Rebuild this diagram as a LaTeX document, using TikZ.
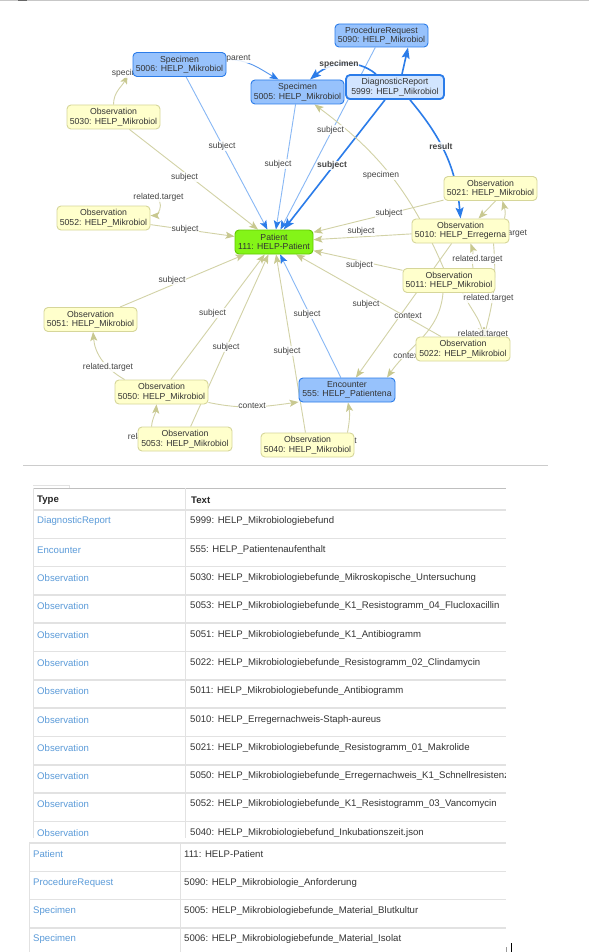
\documentclass[tikz,border=0pt]{standalone}
\usepackage{fontspec}
\setmainfont{Liberation Sans}
\usetikzlibrary{arrows.meta,calc}
\pgfdeclarelayer{bglayer}
\pgfdeclarelayer{edgelayer}
\pgfsetlayers{bglayer,edgelayer,main}
\definecolor{obsfill}{HTML}{FFFFCC}
\definecolor{obsline}{HTML}{D6D69A}
\definecolor{khaki}{HTML}{D2D2A6}
\definecolor{khakitip}{HTML}{C8C890}
\definecolor{bluefill}{HTML}{97C2FC}
\definecolor{blueline}{HTML}{2B7CE9}
\definecolor{lightedge}{HTML}{88B8F5}
\definecolor{hifill}{HTML}{D2E5FF}
\definecolor{patfill}{HTML}{84F418}
\definecolor{patline}{HTML}{62C800}
\definecolor{txt}{HTML}{343434}
\definecolor{lblc}{HTML}{444444}
\definecolor{linkc}{HTML}{5B9BD9}
\definecolor{rulec}{HTML}{E2E2E2}
\tikzset{
 gnode/.style={rounded corners=4pt, align=center, inner sep=0pt, minimum height=24pt, text=txt, font=\fontsize{8.7}{9.5}\selectfont, line width=0.9pt},
 obs/.style={gnode, fill=obsfill, draw=obsline, minimum width=93pt},
 res/.style={gnode, fill=bluefill, draw=blueline, minimum width=93pt},
 sel/.style={gnode, fill=hifill, draw=blueline, line width=1.8pt, minimum width=98pt},
 patnode/.style={gnode, fill=patfill, draw=patline, minimum width=78pt},
 oedge/.style={draw=khaki, line width=0.9pt, -{Stealth[length=9pt,width=7pt,inset=2pt,color=khakitip]}},
 bedge/.style={draw=lightedge, line width=0.9pt, -{Stealth[length=9pt,width=7pt,inset=2pt,color=blueline]}},
 hedge/.style={draw=blueline, line width=1.6pt, -{Stealth[length=11pt,width=8pt,inset=2pt]}},
 elbl/.style={text=lblc, font=\fontsize{8.5}{9}\selectfont, fill=white, fill opacity=0.85, text opacity=1, inner sep=0.6pt},
 hlbl/.style={elbl, font=\bfseries\fontsize{8.5}{9}\selectfont},
 ttype/.style={anchor=west, text=linkc, font=\fontsize{9.6}{10}\selectfont, inner sep=0pt},
 ttext/.style={anchor=west, text=txt, font=\fontsize{9.6}{10}\selectfont, inner sep=0pt},
 thead/.style={anchor=west, text=black!85, font=\bfseries\fontsize{9.6}{10}\selectfont, inner sep=0pt},
 rowline/.style={draw=rulec, line width=1.6pt},
 colline/.style={draw=rulec, line width=0.8pt},
}
\begin{document}
\begin{tikzpicture}[x=1pt,y=1pt]
\useasboundingbox (0,0) rectangle (589,-952);
\begin{pgfonlayer}{bglayer}
\fill[white] (0,0) rectangle (589,-952);
\end{pgfonlayer}
% top strip
\fill[black!22] (0,0) rectangle (589,-1.3);
\fill[black!60] (18,0) rectangle (27,-1.3);

% ---------- graph nodes ----------
\node[res] (s5006) at (179.5,-64.5) {Specimen\\5006: HELP\_Mikrobiol};
\node[res] (s5005) at (297.5,-92) {Specimen\\5005: HELP\_Mikrobiol};
\node[res, minimum height=23pt] (p5090) at (381.5,-35.5) {ProcedureRequest\\5090: HELP\_Mikrobiol};
\node[sel] (d5999) at (395,-87) {DiagnosticReport\\5999: HELP\_Mikrobiol};
\node[obs] (o5030) at (113.5,-117) {Observation\\5030: HELP\_Mikrobiol};
\node[obs] (o5052) at (103.5,-218) {Observation\\5052: HELP\_Mikrobiol};
\node[patnode] (pat) at (274,-242) {Patient\\111: HELP-Patient};
\node[obs] (o5021) at (490.5,-188.5) {Observation\\5021: HELP\_Mikrobiol};
\node[obs, minimum width=97pt] (o5010) at (460.5,-231) {Observation\\5010: HELP\_Erregerna};
\node[obs, minimum width=92pt] (o5011) at (449,-280.5) {Observation\\5011: HELP\_Mikrobiol};
\node[obs] (o5051) at (90.5,-319.5) {Observation\\5051: HELP\_Mikrobiol};
\node[obs] (o5050) at (161.5,-392) {Observation\\5050: HELP\_Mikrobiol};
\node[obs, minimum width=94pt] (o5053) at (185,-439) {Observation\\5053: HELP\_Mikrobiol};
\node[obs] (o5040) at (307.5,-445) {Observation\\5040: HELP\_Mikrobiol};
\node[res, minimum width=96pt] (enc) at (347,-390) {Encounter\\555: HELP\_Patientena};
\node[obs, minimum width=94pt] (o5022) at (463,-349) {Observation\\5022: HELP\_Mikrobiol};

% ---------- edges ----------
\begin{pgfonlayer}{edgelayer}
\draw[bedge, draw=blueline!80] ($(s5006.east)+(0,5)$) to[out=0,in=150] ($(s5005.north)+(-19,0)$);
\draw[bedge] (s5006) -- (pat);
\draw[bedge] (s5005) -- (pat);
\draw[bedge] (p5090) -- (pat);
\draw[bedge] (enc) -- (pat);
\draw[hedge] (d5999) -- (pat);
\draw[hedge] ($(d5999.north)+(-19,0)$) to[out=140,in=40] ($(s5005.north)+(12.5,0)$);
\draw[hedge] ($(d5999.north)+(7,0)$) -- ($(p5090.south)+(26.5,0)$);
\draw[hedge] ($(d5999.south)+(15,0)$) to[out=-50,in=95] (o5010.north);

\draw[oedge] (o5030.north) to[out=90,in=-115] ($(s5006.south west)+(-5,2)$);
\draw[oedge] (o5030) -- (pat);
\draw[oedge] (o5052) -- (pat);
\draw[oedge] ($(o5052.north east)+(0,10)$) arc[start angle=90,end angle=-90,radius=10];
\draw[oedge] (o5051) -- (pat);
\draw[oedge] (o5050) -- (pat);
\draw[oedge] (o5053) -- (pat);
\draw[oedge] (o5040) -- (pat);
\draw[oedge] (o5021) -- (pat);
\draw[oedge] (o5010) -- (pat);
\draw[oedge] (o5011) -- (pat);
\draw[oedge] (o5022) -- (pat);
\draw[oedge] (o5011) to[bend right=15] (s5005);
\draw[oedge] ($(o5050.north west)+(10,0)$) to[out=150,in=-85] ($(o5051.south)+(2.5,0)$);
\draw[oedge] ($(o5053.north west)+(14,0)$) to[out=85,in=-95] ($(o5050.south)+(-5,0)$);
\draw[oedge] ($(o5050.south east)+(0,2)$) to[out=-12,in=188] ($(enc.west)+(0,-12)$);
\draw[oedge] ($(o5040.north)+(40,0)$) to[out=80,in=-80] ($(enc.south)+(1,0)$);
\draw[oedge] (o5010) -- (enc);
\draw[oedge] ($(o5011.south)+(-6,0)$) to[out=-95,in=55] ($(enc.north)+(40,0)$);
\draw[oedge] ($(o5021.south)+(5,0)$) -- ($(o5010.north)+(18,0)$);
\draw[oedge] ($(o5010.north)+(44,0)$) to[out=75,in=-75] ($(o5021.south)+(12,0)$);
\draw[oedge] ($(o5011.north)+(24,0)$) to[out=100,in=-70] ($(o5010.south)+(10,0)$);
\draw[oedge] ($(o5011.south)+(14,0)$) to[out=-65,in=100] ($(o5022.north)+(20,0)$);
\draw[oedge] ($(o5010.south)+(33,0)$) to[out=-85,in=75] ($(o5022.north)+(21,0)$);

% labels
\node[elbl] (l01) at (238.5,-59) {parent};
\node[elbl] (l02) at (130,-73) {specimen};
\node[elbl] (l03) at (222,-146) {subject};
\node[elbl] (l04) at (278,-164) {subject};
\node[elbl] (l05) at (330.5,-130) {subject};
\node[hlbl] (l06) at (332,-165.5) {subject};
\node[hlbl] (l07) at (339,-64) {specimen};
\node[hlbl] (l08) at (441,-146) {result};
\node[elbl] (l09) at (381,-175) {specimen};
\node[elbl] (l10) at (184.5,-177) {subject};
\node[elbl] (l11) at (158.5,-197) {related.target};
\node[elbl] (l12) at (185,-229) {subject};
\node[elbl] (l13) at (172,-280) {subject};
\node[elbl] (l14) at (108,-367) {related.target};
\node[elbl] (l15) at (212.5,-313) {subject};
\node[elbl] (l16) at (226,-347) {subject};
\node[elbl] (l17) at (153,-437.5) {related.target};
\node[elbl] (l18) at (252,-406) {context};
\node[elbl] (l19) at (287,-351) {subject};
\node[elbl] (l20) at (343,-440.5) {context};
\node[elbl] (l21) at (307,-314) {subject};
\node[elbl] (l22) at (408,-316) {context};
\node[elbl] (l23) at (407,-356) {context};
\node[elbl] (l24) at (389,-213) {subject};
\node[elbl] (l25) at (361,-231) {subject};
\node[elbl] (l26) at (359.5,-265) {subject};
\node[elbl] (l27) at (366,-304.5) {subject};
\node[elbl] (l28) at (502,-233) {related.target};
\node[elbl] (l29) at (477.5,-259) {related.target};
\node[elbl] (l30) at (488.5,-298) {related.target};
\node[elbl] (l31) at (483,-334) {related.target};
\end{pgfonlayer}

% separator
\draw[draw=black!20, line width=0.8pt] (23,-465) -- (548,-465);

% ---------- table 1 ----------
\draw[colline] (33,-485) -- (69,-485) -- (69,-488);
\draw[draw=black!25, line width=1.5pt] (33,-488.5) -- (506,-488.5);
\foreach \i in {0,...,11} \draw[rowline] (33,{-510-28.3*\i}) -- (506,{-510-28.3*\i});
\draw[colline] (33,-488) -- (33,-838);
\draw[colline] (185,-488) -- (185,-838);
\node[thead] (h1) at (37,-500) {Type};
\node[thead] (h2) at (191,-500) {Text};
\begin{scope}
\clip (30,-480) rectangle (505.5,-952);
\foreach \ty/\tx [count=\i from 0] in {
 DiagnosticReport/5999: HELP\_Mikrobiologiebefund,
 Encounter/555: HELP\_Patientenaufenthalt,
 Observation/5030: HELP\_Mikrobiologiebefunde\_Mikroskopische\_Untersuchung,
 Observation/5053: HELP\_Mikrobiologiebefunde\_K1\_Resistogramm\_04\_Flucloxacillin,
 Observation/5051: HELP\_Mikrobiologiebefunde\_K1\_Antibiogramm,
 Observation/5022: HELP\_Mikrobiologiebefunde\_Resistogramm\_02\_Clindamycin,
 Observation/5011: HELP\_Mikrobiologiebefunde\_Antibiogramm,
 Observation/5010: HELP\_Erregernachweis-Staph-aureus,
 Observation/5021: HELP\_Mikrobiologiebefunde\_Resistogramm\_01\_Makrolide,
 Observation/5050: HELP\_Mikrobiologiebefunde\_Erregernachweis\_K1\_Schnellresistenz,
 Observation/5052: HELP\_Mikrobiologiebefunde\_K1\_Resistogramm\_03\_Vancomycin,
 Observation/5040: HELP\_Mikrobiologiebefund\_Inkubationszeit.json}
 {
 \node[ttype] (ta\i) at (37,{-521.5-28.3*\i}) {\ty};
 \node[ttext] (tb\i) at (190,{-521.5-28.3*\i}) {\tx};
 }
\end{scope}

% ---------- table 2 ----------
\foreach \i in {0,...,3} \draw[rowline] (29,{-843-28.3*\i}) -- (506,{-843-28.3*\i});
\draw[colline] (29,-843) -- (29,-952);
\draw[colline] (180.5,-843) -- (180.5,-952);
\foreach \ty/\tx [count=\i from 0] in {
 Patient/111: HELP-Patient,
 ProcedureRequest/5090: HELP\_Mikrobiologie\_Anforderung,
 Specimen/5005: HELP\_Mikrobiologiebefunde\_Material\_Blutkultur,
 Specimen/5006: HELP\_Mikrobiologiebefunde\_Material\_Isolat}
 {
 \node[ttype] (tc\i) at (33,{-854.5-28.3*\i}) {\ty};
 \node[ttext] (td\i) at (184,{-854.5-28.3*\i}) {\tx};
 }
\draw[black!40, line width=0.8pt] (506.5,-947) -- (506.5,-952);
\draw[black, line width=1pt] (511.5,-943) -- (511.5,-952);
\end{tikzpicture}
\end{document}
